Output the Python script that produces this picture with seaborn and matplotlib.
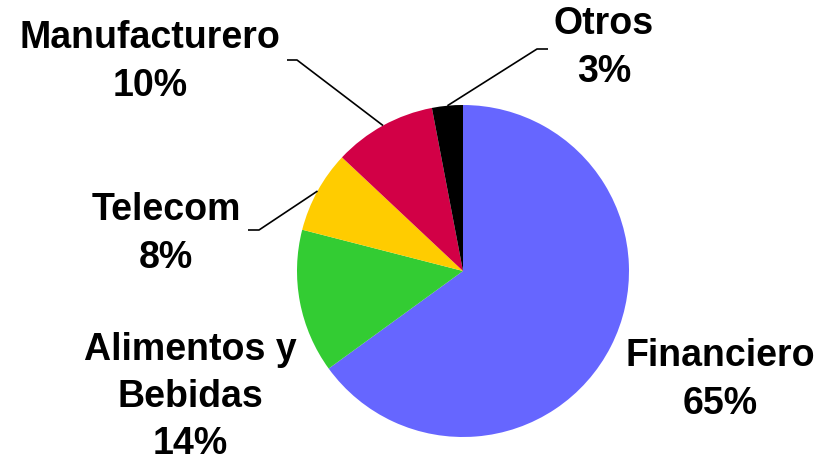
import numpy as np
import matplotlib
matplotlib.use("Agg")
import matplotlib.pyplot as plt
import seaborn as sns

sectores = ["Financiero", "Alimentos y\nBebidas", "Telecom", "Manufacturero", "Otros"]
porcentajes = [65, 14, 8, 10, 3]
colores = ["#6666FF", "#33CC33", "#FFCC00", "#D20046", "#000000"]

sns.set_theme(style="white")
plt.rcParams['font.family'] = ['Liberation Sans', 'DejaVu Sans']

fig = plt.figure(figsize=(8.19, 4.61), dpi=100)
ax = fig.add_axes([0, 0, 1, 1])

centro = (463, 190)
radio = 166
wedges, _ = ax.pie(porcentajes, colors=colores, startangle=90, counterclock=False,
                   center=centro, radius=radio, frame=True,
                   wedgeprops=dict(linewidth=0))
ax.set_xlim(0, 819)
ax.set_ylim(0, 461)
ax.set_aspect("equal")
ax.axis("off")

# label block centres and leader elbows (pixel coords, y up)
pos_texto = [(720, 81), (190, 64), (166, 227), (150, 399), (604, 413)]
codos = [None, None, (259, 231), (297, 401), (537, 412)]
fin_codo = [None, None, (248, 231), (287, 401), (548, 412)]

for w, nombre, p, pt, c, f in zip(wedges, sectores, porcentajes, pos_texto, codos, fin_codo):
    ax.text(pt[0], pt[1], f"{nombre}\n{p}%", ha="center", va="center",
            fontsize=27, fontweight="bold", linespacing=1.4, color="black")
    if c is not None:
        ang = np.deg2rad((w.theta1 + w.theta2) / 2)
        x0 = centro[0] + radio * np.cos(ang)
        y0 = centro[1] + radio * np.sin(ang)
        ax.plot([x0, c[0], f[0]], [y0, c[1], f[1]], color="black", lw=1.2,
                solid_capstyle="butt")

fig.savefig("out.png", dpi=100, facecolor="white")
